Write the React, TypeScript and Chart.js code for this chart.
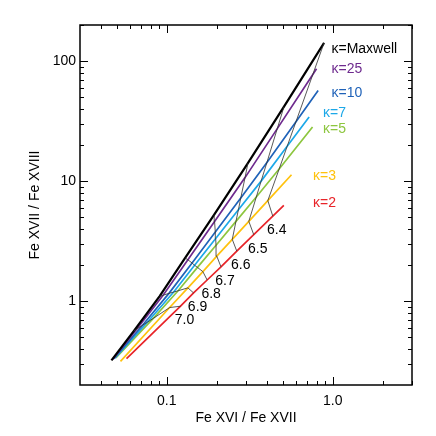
import React, { useEffect, useRef } from 'react';
import { Chart, registerables } from 'chart.js';

Chart.register(...registerables);

// Temperatures (log T) marked along each curve, from hot (bottom) to cool (top)
const TEMPERATURE_LABELS = ['7.0', '6.9', '6.8', '6.7', '6.6', '6.5', '6.4'];

const KAPPA_NAMES = ['κ=Maxwell', 'κ=25', 'κ=10', 'κ=7', 'κ=5', 'κ=3', 'κ=2'];
const KAPPA_COLORS = ['#000000', '#6E2A8E', '#1F62B8', '#1CA8E8', '#8DC63F', '#FFC20E', '#E82429'];

// Each curve: [hot end, 7.0, 6.9, 6.8, 6.7, 6.6, 6.5, 6.4, (cool end)]
const MAXWELL_X = [0.0464, 0.0632, 0.0906, 0.129, 0.193, 0.308, 0.508, 0.886];
const MAXWELL_Y = [0.321, 0.563, 1.10, 2.29, 5.25, 14.1, 41.7, 142];

const KAPPA25_X = [0.0473, 0.0660, 0.0950, 0.134, 0.194, 0.296, 0.463, 0.758, 0.798];
const KAPPA25_Y = [0.328, 0.585, 1.12, 2.21, 4.60, 10.7, 27.4, 77.4, 86.3];

const KAPPA10_X = [0.0479, 0.0712, 0.103, 0.142, 0.196, 0.279, 0.401, 0.600, 0.816];
const KAPPA10_Y = [0.331, 0.627, 1.16, 2.08, 3.76, 7.23, 14.3, 31.3, 56.8];

const KAPPA7_X = [0.0486, 0.0763, 0.110, 0.147, 0.197, 0.270, 0.370, 0.531, 0.720];
const KAPPA7_Y = [0.334, 0.667, 1.19, 1.99, 3.32, 5.77, 10.0, 19.5, 34.2];

const KAPPA5_X = [0.0493, 0.0829, 0.117, 0.153, 0.198, 0.261, 0.346, 0.475, 0.755];
const KAPPA5_Y = [0.337, 0.718, 1.22, 1.91, 2.92, 4.62, 7.37, 12.6, 28.3];

const KAPPA3_X = [0.0526, 0.104, 0.134, 0.165, 0.200, 0.248, 0.312, 0.406, 0.564];
const KAPPA3_Y = [0.315, 0.884, 1.29, 1.76, 2.37, 3.27, 4.62, 6.88, 11.3];

const KAPPA2_X = [0.0572, 0.121, 0.145, 0.175, 0.212, 0.264, 0.334, 0.435, 0.507];
const KAPPA2_Y = [0.332, 0.907, 1.17, 1.50, 1.93, 2.61, 3.58, 5.11, 6.28];

const CURVES_X = [MAXWELL_X, KAPPA25_X, KAPPA10_X, KAPPA7_X, KAPPA5_X, KAPPA3_X, KAPPA2_X];
const CURVES_Y = [MAXWELL_Y, KAPPA25_Y, KAPPA10_Y, KAPPA7_Y, KAPPA5_Y, KAPPA3_Y, KAPPA2_Y];

// kappa label anchors (data coordinates, left / middle)
const KAPPA_LABEL_X = [0.982, 0.982, 0.982, 0.874, 0.874, 0.761, 0.761];
const KAPPA_LABEL_Y = [127, 86.3, 54.3, 37.0, 27.2, 10.9, 6.55];

const X_MIN = 0.03;
const X_MAX = 3;
const Y_MIN = 0.2;
const Y_MAX = 200;
const X_MAJOR_TICKS = [0.1, 1.0];
const X_MAJOR_LABELS = ['0.1', '1.0'];
const X_MINOR_TICKS = [0.04, 0.05, 0.06, 0.07, 0.08, 0.09, 0.2, 0.3, 0.4, 0.5, 0.6, 0.7, 0.8, 0.9, 2, 3];
const Y_MAJOR_TICKS = [1, 10, 100];
const Y_MAJOR_LABELS = ['1', '10', '100'];
const Y_MINOR_TICKS = [0.3, 0.4, 0.5, 0.6, 0.7, 0.8, 0.9, 2, 3, 4, 5, 6, 7, 8, 9, 20, 30, 40, 50, 60, 70, 80, 90, 200];

const X_TITLE = 'Fe XVI / Fe XVII';
const Y_TITLE = 'Fe XVII / Fe XVIII';

const FONT = '"Liberation Sans", Arial, Helvetica, sans-serif';

const decorPlugin = {
  id: 'decor',
  afterDraw(chart: any) {
    const ctx = chart.ctx as CanvasRenderingContext2D;
    const xs = chart.scales.x;
    const ys = chart.scales.y;
    const a = chart.chartArea;
    ctx.save();
    ctx.strokeStyle = '#000';
    ctx.fillStyle = '#000';
    ctx.lineWidth = 1.5;
    ctx.strokeRect(a.left, a.top, a.right - a.left, a.bottom - a.top);
    ctx.lineWidth = 1;
    const major = 8;
    const minor = 4;
    const drawX = (v: number, len: number) => {
      const p = Math.round(xs.getPixelForValue(v)) + 0.5;
      ctx.beginPath();
      ctx.moveTo(p, a.bottom);
      ctx.lineTo(p, a.bottom - len);
      ctx.moveTo(p, a.top);
      ctx.lineTo(p, a.top + len);
      ctx.stroke();
    };
    const drawY = (v: number, len: number) => {
      const p = Math.round(ys.getPixelForValue(v)) + 0.5;
      ctx.beginPath();
      ctx.moveTo(a.left, p);
      ctx.lineTo(a.left + len, p);
      ctx.moveTo(a.right, p);
      ctx.lineTo(a.right - len, p);
      ctx.stroke();
    };
    X_MAJOR_TICKS.forEach((v) => drawX(v, major));
    X_MINOR_TICKS.forEach((v) => drawX(v, minor));
    Y_MAJOR_TICKS.forEach((v) => drawY(v, major));
    Y_MINOR_TICKS.forEach((v) => drawY(v, minor));

    ctx.font = `14px ${FONT}`;
    ctx.textAlign = 'center';
    ctx.textBaseline = 'middle';
    X_MAJOR_TICKS.forEach((v, i) => {
      ctx.fillText(X_MAJOR_LABELS[i], xs.getPixelForValue(v), a.bottom + 16);
    });
    ctx.textAlign = 'right';
    Y_MAJOR_TICKS.forEach((v, i) => {
      ctx.fillText(Y_MAJOR_LABELS[i], a.left - 4, ys.getPixelForValue(v));
    });
    ctx.textAlign = 'center';
    ctx.fillText(X_TITLE, (a.left + a.right) / 2, a.bottom + 33);
    ctx.save();
    ctx.translate(35, (a.top + a.bottom) / 2);
    ctx.rotate(-Math.PI / 2);
    ctx.fillText(Y_TITLE, 0, 0);
    ctx.restore();

    // kappa labels
    ctx.textAlign = 'left';
    KAPPA_NAMES.forEach((name, i) => {
      ctx.fillStyle = KAPPA_COLORS[i];
      ctx.fillText(name, xs.getPixelForValue(KAPPA_LABEL_X[i]), ys.getPixelForValue(KAPPA_LABEL_Y[i]));
    });

    // temperature labels next to the kappa=2 points
    ctx.fillStyle = '#000';
    ctx.font = `14px ${FONT}`;
    ctx.textAlign = 'center';
    TEMPERATURE_LABELS.forEach((t, i) => {
      const px = xs.getPixelForValue(KAPPA2_X[i + 1]);
      const py = ys.getPixelForValue(KAPPA2_Y[i + 1]);
      ctx.fillText(t, px + 4, py + 14);
    });
    ctx.restore();
  },
};

export default function App() {
  const ref = useRef<HTMLCanvasElement | null>(null);
  useEffect(() => {
    if (!ref.current) return;
    const datasets: any[] = [];
    // iso-temperature connectors (from kappa=2 to Maxwell)
    TEMPERATURE_LABELS.forEach((t, i) => {
      const pts: { x: number; y: number }[] = [];
      for (let c = CURVES_X.length - 1; c >= 0; c--) {
        pts.push({ x: CURVES_X[c][i + 1], y: CURVES_Y[c][i + 1] });
      }
      datasets.push({
        label: 'T ' + t,
        data: pts,
        showLine: true,
        borderColor: 'rgba(50,50,50,0.9)',
        borderWidth: 0.9,
        pointRadius: 0,
        order: 0,
      });
    });
    CURVES_X.forEach((xsArr, c) => {
      datasets.push({
        label: KAPPA_NAMES[c],
        data: xsArr.map((x, k) => ({ x, y: CURVES_Y[c][k] })),
        showLine: true,
        borderColor: KAPPA_COLORS[c],
        borderWidth: c === 0 ? 2.2 : 1.7,
        pointRadius: 0,
        order: c === 0 ? 1 : 1 + c,
      });
    });
    const chart = new Chart(ref.current, {
      type: 'scatter',
      data: { datasets },
      options: {
        animation: false,
        responsive: false,
        devicePixelRatio: 1,
        layout: { padding: { left: 80, right: 24, top: 25, bottom: 51 } },
        plugins: { legend: { display: false }, tooltip: { enabled: false } },
        scales: {
          x: { type: 'logarithmic', min: X_MIN, max: X_MAX, display: false },
          y: { type: 'logarithmic', min: Y_MIN, max: Y_MAX, display: false },
        },
      },
      plugins: [decorPlugin],
    });
    return () => chart.destroy();
  }, []);
  return (
    <div style={{ position: 'fixed', left: 0, top: 0, width: 436, height: 436, background: '#fff' }}>
      <canvas ref={ref} width={436} height={436} style={{ width: 436, height: 436 }} />
    </div>
  );
}
